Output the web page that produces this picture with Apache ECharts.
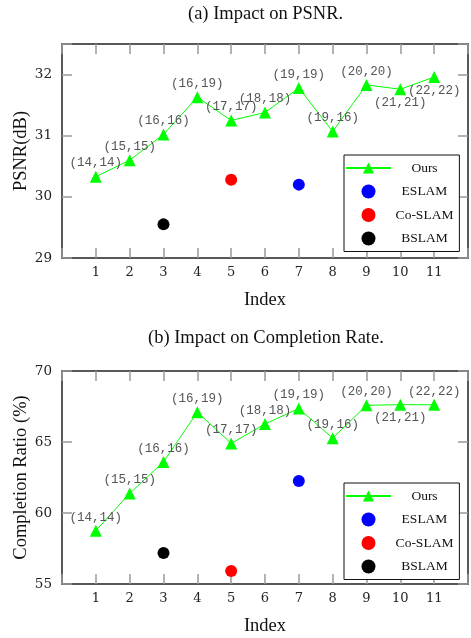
<!DOCTYPE html>
<html><head><meta charset="utf-8">
<script src="https://cdn.jsdelivr.net/npm/echarts@6/dist/echarts.min.js"></script>
<style>html,body{margin:0;padding:0;background:#fff}#c{width:471px;height:638px}</style>
</head><body><div id="c"></div>
<script>
// ---- data ----
var indexTicks = [1,2,3,4,5,6,7,8,9,10,11];
var pairLabels = ['(14,14)','(15,15)','(16,16)','(16,19)','(17,17)','(18,18)','(19,19)','(19,16)','(20,20)','(21,21)','(22,22)'];
var psnrOurs = [30.33,30.60,31.02,31.63,31.25,31.38,31.78,31.07,31.83,31.76,31.96];
var psnrESLAM = [7, 30.20];
var psnrCoSLAM = [5, 30.28];
var psnrBSLAM = [3, 29.55];
var compOurs = [58.75,61.38,63.60,67.10,64.90,66.27,67.36,65.27,67.58,67.63,67.62];
var compESLAM = [7, 62.25];
var compCoSLAM = [5, 55.92];
var compBSLAM = [3, 57.18];
var titles = ['(a) Impact on PSNR.', '(b) Impact on Completion Rate.'];
var yNames = ['PSNR(dB)', 'Completion Ratio (%)'];
var xName = 'Index';

// ---- layout / style ----
var SERIF = 'Liberation Serif';
var TICKF = 'DejaVu Serif';
var MONO = 'Liberation Mono';
var GREEN = '#00ff00';
var GRIDS = [{left:62, top:44, width:408, height:214}, {left:62, top:371, width:408, height:213}];
var below = [[9,10],[9]]; // label placed below for these point indices

function ourData(vals, chart){
  return indexTicks.map(function(x,i){
    var item = {value:[x, vals[i]]};
    if (below[chart].indexOf(i) >= 0) item.label = {position:'bottom'};
    return item;
  });
}
function frameLine(){ return {show:true, onZero:false, lineStyle:{color:'#222', width:1.5}}; }
function ticks(){ return {show:true, inside:true, length:10, lineStyle:{color:'#999999', width:1.5}}; }
function xAxes(grid){
  var bottom = {type:'value', gridIndex:grid, min:0, max:12, interval:1, position:'bottom',
    axisLine:frameLine(), axisTick:ticks(), splitLine:{show:false},
    name:xName, nameLocation:'middle', nameGap:33, nameMoveOverlap:false,
    nameTextStyle:{fontFamily:SERIF, fontSize:18.5, color:'#111'},
    axisLabel:{fontFamily:TICKF, fontSize:13, color:'#222', margin:8,
      formatter:function(v){return (v>=1&&v<=11)?String(v):'';}}};
  var top = {type:'value', gridIndex:grid, min:0, max:12, interval:1, position:'top',
    axisLine:frameLine(), axisTick:ticks(), splitLine:{show:false}, axisLabel:{show:false}};
  return [bottom, top];
}
function yAxes(grid, min, max, step, name){
  var left = {type:'value', gridIndex:grid, min:min, max:max, interval:step, position:'left',
    axisLine:frameLine(), axisTick:ticks(), splitLine:{show:false},
    name:name, nameLocation:'middle', nameGap:31, nameMoveOverlap:false,
    nameTextStyle:{fontFamily:SERIF, fontSize:18.5, color:'#111'},
    axisLabel:{fontFamily:TICKF, fontSize:13.5, color:'#222', margin:10,
      formatter:function(v){return Math.abs(v-Math.round(v))<1e-6 ? String(v) : '';}}};
  var right = {type:'value', gridIndex:grid, min:min, max:max, interval:step, position:'right',
    axisLine:frameLine(), axisTick:ticks(), splitLine:{show:false}, axisLabel:{show:false}};
  return [left, right];
}
function legend(top){
  return {left:344, top:top, orient:'vertical', data:['Ours','ESLAM','Co-SLAM','BSLAM'],
    itemWidth:45, itemHeight:14, itemGap:9.5, padding:[6,6,6,1],
    borderColor:'#111', borderWidth:1, backgroundColor:'#fff', selectedMode:false,
    formatter:function(n){return '{a|'+n+'}';},
    textStyle:{fontFamily:SERIF, fontSize:13.5, color:'#111',
      rich:{a:{fontFamily:SERIF, fontSize:13.5, color:'#111', width:57, align:'center'}}}};
}
var labelStyle = {show:true, position:'top', distance:1, fontFamily:MONO, fontSize:12.5, color:'#555',
  formatter:function(p){return pairLabels[p.dataIndex];}};

function seriesFor(chart, ours, es, co, bs){
  var xi = chart*2, yi = chart*2;
  return [
    {name:'Ours', type:'line', xAxisIndex:xi, yAxisIndex:yi, data:ourData(ours, chart),
     symbol:'triangle', symbolSize:12, lineStyle:{color:GREEN, width:1}, itemStyle:{color:GREEN},
     label:labelStyle, z:3},
    {name:'ESLAM', type:'scatter', xAxisIndex:xi, yAxisIndex:yi, data:[es], symbolSize:12, itemStyle:{color:'#0000ff', opacity:1}},
    {name:'Co-SLAM', type:'scatter', xAxisIndex:xi, yAxisIndex:yi, data:[co], symbolSize:12, itemStyle:{color:'#ff0000', opacity:1}},
    {name:'BSLAM', type:'scatter', xAxisIndex:xi, yAxisIndex:yi, data:[bs], symbolSize:12, itemStyle:{color:'#000000', opacity:1}}
  ];
}

var chart = echarts.init(document.getElementById('c'));
chart.setOption({
  animation:false,
  title:[
    {text:titles[0], left:183, top:0, textStyle:{fontFamily:SERIF, fontSize:18.5, fontWeight:'normal', color:'#111'}},
    {text:titles[1], left:143, top:324, textStyle:{fontFamily:SERIF, fontSize:18.5, fontWeight:'normal', color:'#111'}}
  ],
  grid: GRIDS,
  xAxis: xAxes(0).concat(xAxes(1)),
  yAxis: yAxes(0, 29, 32.5, 1, yNames[0]).concat(yAxes(1, 55, 70, 5, yNames[1])),
  legend:[legend(155), legend(483)],
  series: seriesFor(0, psnrOurs, psnrESLAM, psnrCoSLAM, psnrBSLAM)
    .concat(seriesFor(1, compOurs, compESLAM, compCoSLAM, compBSLAM))
});
</script></body></html>
